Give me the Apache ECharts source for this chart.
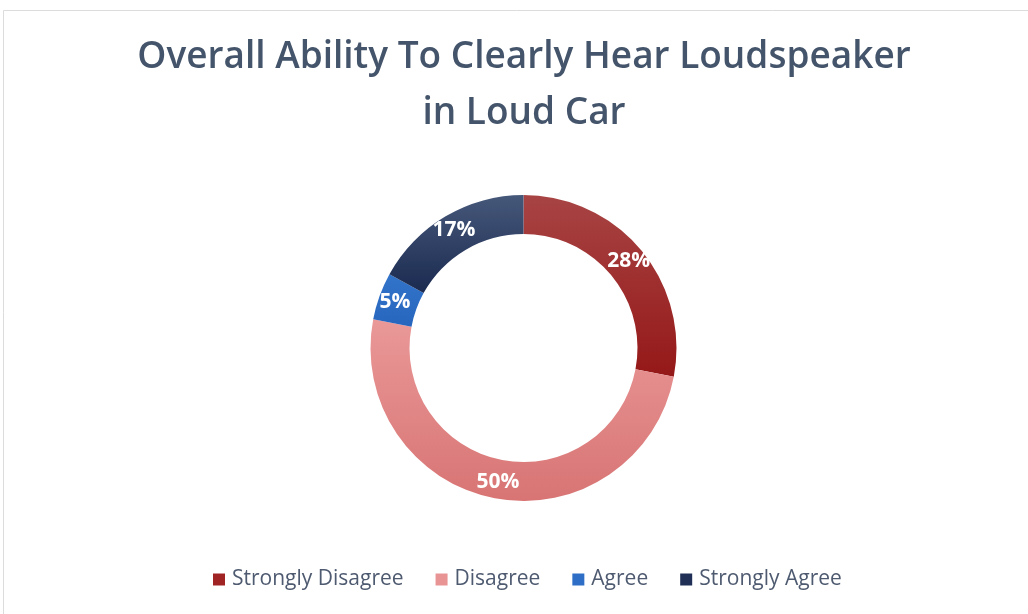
<!DOCTYPE html>
<html>
<head>
<meta charset="utf-8">
<script src="https://cdn.jsdelivr.net/npm/echarts@6/dist/echarts.min.js"></script>
<style>
html,body{margin:0;padding:0;background:#fff;}
#chart{width:1028px;height:614px;}
</style>
</head>
<body>
<div id="chart"></div>
<script>
const categories = ['Strongly Disagree', 'Disagree', 'Agree', 'Strongly Agree'];
const values = [28, 50, 5, 17];
const titleLines = ['Overall Ability To Clearly Hear Loudspeaker', 'in Loud Car'];

const gradients = [
  ['#A84444', '#951818'],
  ['#EA9898', '#D87474'],
  ['#3274CA', '#2866BE'],
  ['#46587A', '#1A2A50']
];
const legendColors = ['#A02424', '#E89494', '#2E6EC6', '#1F2F55'];

function grad(c) {
  return new echarts.graphic.LinearGradient(0, 0, 0, 1, [
    {offset: 0, color: c[0]}, {offset: 1, color: c[1]}
  ]);
}

const chart = echarts.init(document.getElementById('chart'), null, {renderer: 'canvas'});
chart.setOption({
  animation: false,
  backgroundColor: '#ffffff',
  graphic: [{
    type: 'rect',
    shape: {x: 3.5, y: 10.5, width: 1040, height: 620},
    style: {fill: null, stroke: '#DCDCDC', lineWidth: 1},
    silent: true
  }],
  title: {
    text: titleLines.join('\n'),
    left: 519,
    textAlign: 'center',
    top: 24,
    textStyle: {
      fontFamily: 'Open Sans',
      fontWeight: 600,
      fontSize: 37,
      lineHeight: 56,
      color: '#44546A'
    }
  },
  legend: {
    bottom: 19,
    left: 208,
    icon: 'rect',
    itemWidth: 12,
    itemHeight: 12,
    itemGap: 32,
    selectedMode: false,
    textStyle: {
      fontFamily: 'Open Sans',
      fontSize: 21,
      color: '#4E5A70',
      padding: [0, 0, 0, 2]
    },
    data: categories.map((c, i) => ({name: c, itemStyle: {color: legendColors[i]}}))
  },
  series: [{
    type: 'pie',
    center: [523.5, 348],
    radius: [114, 153],
    startAngle: 90,
    clockwise: true,
    avoidLabelOverlap: false,
    label: {
      show: true,
      position: 'inside',
      formatter: '{d}%',
      color: '#ffffff',
      fontFamily: 'Open Sans',
      fontWeight: 'bold',
      fontSize: 21
    },
    labelLine: {show: false},
    itemStyle: {borderWidth: 0},
    emphasis: {disabled: true},
    data: categories.map((c, i) => ({
      name: c,
      value: values[i],
      itemStyle: {color: grad(gradients[i])}
    }))
  }]
});
</script>
</body>
</html>
